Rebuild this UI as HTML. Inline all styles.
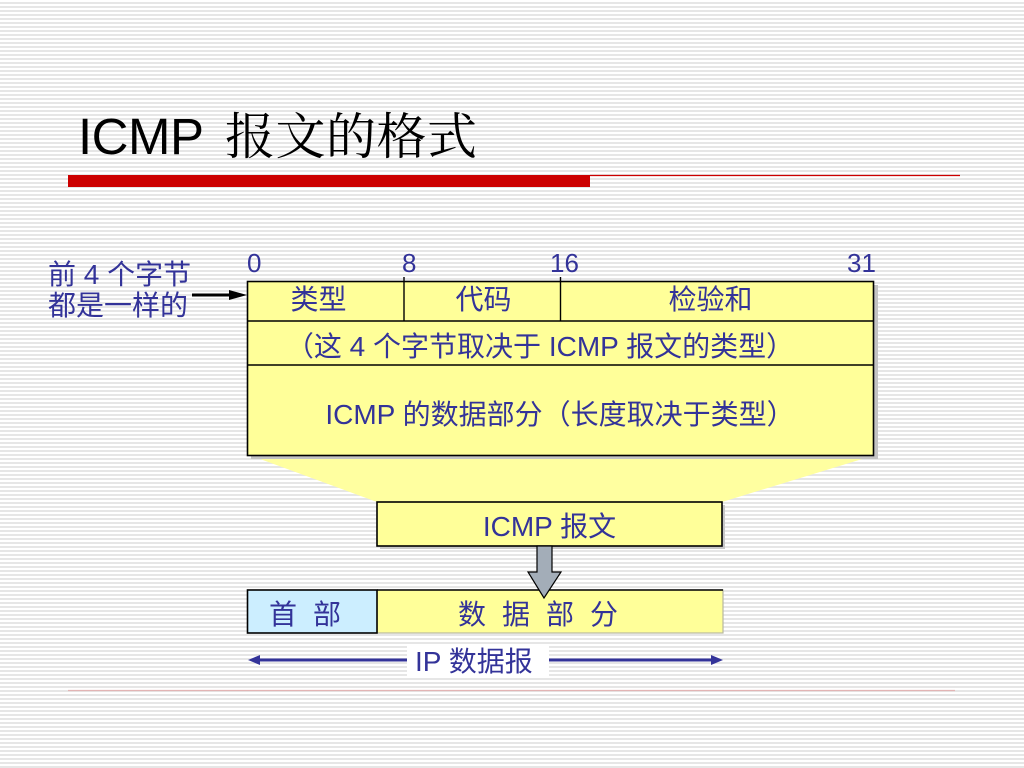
<!DOCTYPE html>
<html>
<head>
<meta charset="utf-8">
<style>
  html,body{margin:0;padding:0;}
  body{width:1024px;height:768px;overflow:hidden;
    background:repeating-linear-gradient(to bottom,#ffffff 0px,#ffffff 2px,#e6e6e6 2px,#e6e6e6 4px);}
  svg{position:absolute;left:0;top:0;}
</style>
</head>
<body>
<svg width="1024" height="768" viewBox="0 0 1024 768" xmlns="http://www.w3.org/2000/svg">
  <!-- Title -->
  <text x="78" y="154" font-family="'Liberation Sans', sans-serif" font-size="51" fill="#000" textLength="126">ICMP</text>
  <text x="225" y="154" font-family="'Noto Serif CJK SC', 'Liberation Serif', serif" font-size="50" fill="#000" textLength="252">报文的格式</text>

  <!-- Red bar -->
  <rect x="68" y="175" width="522" height="12" fill="#cc0000"/>
  <line x1="590" y1="175.5" x2="960" y2="175.5" stroke="#cc0000" stroke-width="1.2"/>

  <!-- Fan -->
  <polygon points="252,456 872,456 722,502 377,502" fill="#ffffa0"/>

  <!-- Main box shadow -->
  <rect x="251" y="285" width="627" height="174" fill="#c4c4c4"/>
  <!-- Main box -->
  <rect x="247.5" y="281.5" width="626" height="174" fill="#ffff99" stroke="#000" stroke-width="1.6"/>
  <line x1="247.5" y1="321" x2="873.5" y2="321" stroke="#000" stroke-width="1.4"/>
  <line x1="247.5" y1="365" x2="873.5" y2="365" stroke="#000" stroke-width="1.4"/>
  <line x1="404" y1="277" x2="404" y2="321" stroke="#000" stroke-width="1.4"/>
  <line x1="560.5" y1="277" x2="560.5" y2="321" stroke="#000" stroke-width="1.4"/>

  <!-- Bit numbers -->
  <g font-family="'Liberation Sans', sans-serif" font-size="26" fill="#333399">
    <text x="247" y="272">0</text>
    <text x="402" y="272">8</text>
    <text x="550" y="272">16</text>
    <text x="847" y="272">31</text>
  </g>

  <g font-family="'Liberation Sans', 'Noto Sans CJK SC', sans-serif" font-size="28" fill="#333399">
    <!-- Left label -->
    <text x="48" y="284">前 4 个字节</text>
    <text x="48" y="315">都是一样的</text>

    <!-- Row 1 -->
    <text x="318.5" y="309" text-anchor="middle">类型</text>
    <text x="483.5" y="309" text-anchor="middle">代码</text>
    <text x="710.5" y="309" text-anchor="middle">检验和</text>

    <!-- Row 2 -->
    <text x="540" y="356" text-anchor="middle">（这 4 个字节取决于 ICMP 报文的类型）</text>
    <!-- Row 3 -->
    <text x="560" y="424" text-anchor="middle">ICMP 的数据部分（长度取决于类型）</text>

    <!-- ICMP 报文 -->
    <text x="549.5" y="536" text-anchor="middle">ICMP 报文</text>
  </g>

  <!-- Left arrow -->
  <line x1="192" y1="295" x2="233" y2="295" stroke="#000" stroke-width="3"/>
  <polygon points="229,290 247,295 229,300" fill="#000"/>

  <!-- ICMP 报文 box (drawn under text: move text after) -->
  <rect x="380" y="505" width="345" height="44" fill="#c8c8c8"/>
  <rect x="377" y="502" width="345" height="44" fill="#ffff99" stroke="#000" stroke-width="1.6"/>
  <text x="549.5" y="536" text-anchor="middle" font-family="'Liberation Sans', 'Noto Sans CJK SC', sans-serif" font-size="28" fill="#333399">ICMP 报文</text>

  <!-- IP datagram boxes -->
  <rect x="377" y="590" width="346" height="43" fill="#ffff99" stroke="#b8b8a0" stroke-width="1.2"/>
  <line x1="377" y1="590" x2="723" y2="590" stroke="#000" stroke-width="1.4"/>
  <rect x="247.5" y="590" width="129.5" height="43" fill="#cceeff" stroke="#000" stroke-width="1.6"/>
  <g font-family="'Liberation Sans', 'Noto Sans CJK SC', sans-serif" font-size="28" fill="#333399">
    <text x="269" y="624" textLength="72">首 部</text>
    <text x="458" y="624" textLength="160">数 据 部 分</text>
  </g>

  <!-- Gray down arrow -->
  <polygon points="537,546 552,546 552,572 561,572 544,598 528,572 537,572" fill="#a3adb8" stroke="#000" stroke-width="1.2"/>

  <!-- IP datagram arrow -->
  <line x1="258" y1="660" x2="712" y2="660" stroke="#333399" stroke-width="3"/>
  <polygon points="248,660 260,655 260,665" fill="#333399"/>
  <polygon points="723,660 711,655 711,665" fill="#333399"/>
  <rect x="407" y="645" width="142" height="31" fill="#ffffff"/>
  <text x="415" y="671" font-family="'Liberation Sans', 'Noto Sans CJK SC', sans-serif" font-size="28" fill="#333399">IP 数据报</text>

  <!-- Bottom line -->
  <line x1="68" y1="690.5" x2="955" y2="690.5" stroke="#e2b4b4" stroke-width="1.2"/>
</svg>
</body>
</html>
